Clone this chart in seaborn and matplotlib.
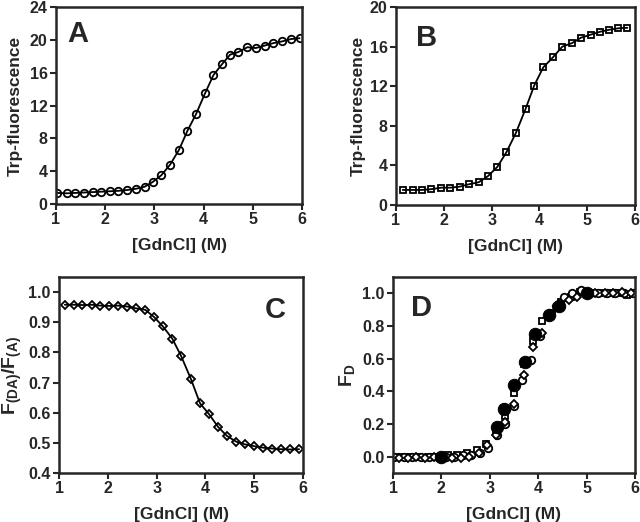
import matplotlib
matplotlib.use("Agg")
import matplotlib.pyplot as plt
import seaborn as sns
import pandas as pd

sns.set_style("ticks")
plt.rcParams['font.family'] = ['Liberation Sans', 'DejaVu Sans']
plt.rcParams['font.weight'] = 'bold'
plt.rcParams['mathtext.fontset'] = 'custom'
plt.rcParams['mathtext.bf'] = 'Liberation Sans:bold'
plt.rcParams['mathtext.rm'] = 'Liberation Sans:bold'

# Panel A (circles)
a_x = [1.03, 1.22, 1.39, 1.57, 1.75, 1.92, 2.09, 2.26, 2.44, 2.62, 2.80, 2.97, 3.14, 3.32, 3.50,
       3.67, 3.85, 4.03, 4.20, 4.37, 4.54, 4.70, 4.89, 5.06, 5.24, 5.42, 5.59, 5.78, 5.95]
a_y = [1.35, 1.3, 1.35, 1.4, 1.45, 1.5, 1.55, 1.6, 1.7, 1.85, 2.1, 2.7, 3.5, 4.8, 6.6,
       8.9, 11.0, 13.5, 15.7, 17.0, 18.2, 18.5, 19.1, 19.0, 19.3, 19.6, 19.8, 20.1, 20.2]

# Panel B (squares)
b_x = [1.14, 1.35, 1.54, 1.74, 1.94, 2.14, 2.33, 2.53, 2.73, 2.92, 3.12, 3.31, 3.51, 3.71,
       3.89, 4.08, 4.28, 4.48, 4.68, 4.87, 5.07, 5.27, 5.46, 5.65, 5.84]
b_y = [1.52, 1.52, 1.52, 1.6, 1.75, 1.75, 1.85, 2.1, 2.3, 2.9, 3.85, 5.33, 7.3, 9.7,
       12.05, 13.9, 14.9, 16.0, 16.35, 16.9, 17.2, 17.5, 17.7, 17.85, 17.9]

# Panel C (diamonds)
c_x = [1.12, 1.30, 1.48, 1.67, 1.85, 2.03, 2.21, 2.40, 2.58, 2.77, 2.95, 3.13, 3.32, 3.50,
       3.70, 3.89, 4.07, 4.26, 4.44, 4.63, 4.81, 5.00, 5.18, 5.37, 5.55, 5.74, 5.92]
c_y = [0.958, 0.958, 0.957, 0.958, 0.955, 0.954, 0.955, 0.952, 0.946, 0.941, 0.917, 0.886, 0.846, 0.789,
       0.713, 0.631, 0.596, 0.553, 0.523, 0.504, 0.495, 0.489, 0.484, 0.481, 0.479, 0.478, 0.479]

# Panel D (fraction denatured)
d_sq_y = [0.0, 0.0, 0.0, 0.0, 0.0, 0.01, 0.01, 0.02, 0.04, 0.08, 0.16, 0.25, 0.39, 0.57,
          0.71, 0.83, 0.88, 0.95, 0.98, 1.01, 1.0, 1.0, 1.0, 1.0, 0.99]
d_ci_y = [0.0, 0.0, 0.0, 0.0, 0.0, 0.0, 0.0, 0.0, 0.01, 0.01, 0.02, 0.05, 0.13, 0.20, 0.31,
          0.47, 0.59, 0.74, 0.86, 0.92, 0.98, 1.0, 1.02, 1.0, 1.0, 1.0, 1.0, 1.0, 1.0]
d_di_y = [-0.01, -0.01, 0.0, -0.01, 0.0, -0.01, -0.01, -0.01, 0.0, 0.02, 0.07, 0.13, 0.21, 0.32,
          0.50, 0.67, 0.76, 0.86, 0.93, 0.96, 0.98, 0.99, 1.0, 1.0, 1.0, 1.01, 1.0]
d_fill_x = [2.0, 3.15, 3.30, 3.51, 3.72, 3.93, 4.22, 4.42, 5.0]
d_fill_y = [0.0, 0.18, 0.29, 0.44, 0.58, 0.75, 0.87, 0.92, 1.0]

fig = plt.figure(figsize=(6.4, 5.22), dpi=100)
W, H = 640, 522
def axes_px(l, r, t, b):
    return fig.add_axes([l / W, 1 - b / H, (r - l) / W, (b - t) / H])

axA = axes_px(56, 302, 7, 204)
axB = axes_px(396, 635, 7, 205)
axC = axes_px(59, 303, 277, 473)
axD = axes_px(393, 635, 277, 473)

ms = 5.4
line_kw = dict(color='black', linewidth=1.3)

def line_with_markers(ax, x, y, marker, size):
    df = pd.DataFrame({'x': x, 'y': y})
    sns.lineplot(data=df, x='x', y='y', ax=ax, sort=True, **line_kw)
    ax.plot(x, y, linestyle='none', marker=marker, markersize=size,
            markerfacecolor='none', markeredgecolor='black', markeredgewidth=1.3)

line_with_markers(axA, a_x, a_y, 'o', ms)
line_with_markers(axB, b_x, b_y, 's', ms - 0.6)
line_with_markers(axC, c_x, c_y, 'D', ms - 0.9)

axD.plot(b_x, d_sq_y, linestyle='none', marker='s', markersize=ms - 0.6,
         markerfacecolor='white', markeredgecolor='black', markeredgewidth=1.3)
axD.plot(a_x, d_ci_y, linestyle='none', marker='o', markersize=ms,
         markerfacecolor='white', markeredgecolor='black', markeredgewidth=1.3)
axD.plot(c_x, d_di_y, linestyle='none', marker='D', markersize=ms - 0.9,
         markerfacecolor='white', markeredgecolor='black', markeredgewidth=1.3)
sns.scatterplot(x=d_fill_x, y=d_fill_y, ax=axD, s=80, color='black', edgecolor='black', zorder=5)

label_fs = 12.5
tick_fs = 11.5
for ax in (axA, axB, axC, axD):
    ax.set_xlim(1, 6)
    ax.set_xticks([1, 2, 3, 4, 5, 6])
    for s in ax.spines.values():
        s.set_linewidth(1.8)
        s.set_visible(True)
    ax.tick_params(direction='out', length=4, width=1.5, labelsize=tick_fs,
                   top=False, right=False, pad=2)
    ax.set_xlabel('[GdnCl] (M)', fontsize=label_fs, fontweight='bold', labelpad=8)

axA.set_ylim(0, 24)
axA.set_yticks([0, 4, 8, 12, 16, 20, 24])
axA.set_ylabel('Trp-fluorescence', fontsize=label_fs, fontweight='bold', labelpad=5)

axB.set_ylim(0, 20)
axB.set_yticks([0, 4, 8, 12, 16, 20])
axB.set_ylabel('Trp-fluorescence', fontsize=label_fs, fontweight='bold', labelpad=3)

axC.set_ylim(0.4, 1.05)
axC.set_yticks([0.4, 0.5, 0.6, 0.7, 0.8, 0.9, 1.0])
axC.set_yticklabels(['0.4', '0.5', '0.6', '0.7', '0.8', '0.9', '1.0'])
axC.set_ylabel(r'$\mathbf{F_{(DA)}/F_{(A)}}$', fontsize=label_fs + 1.5, labelpad=3)

axD.set_ylim(-0.1, 1.1)
axD.set_yticks([0.0, 0.2, 0.4, 0.6, 0.8, 1.0])
axD.set_yticklabels(['0.0', '0.2', '0.4', '0.6', '0.8', '1.0'])
axD.set_ylabel(r'$\mathbf{F_{D}}$', fontsize=label_fs + 1.5, labelpad=4)

for ax in (axA, axB, axC, axD):
    for t in ax.get_xticklabels() + ax.get_yticklabels():
        t.set_fontweight('bold')

letter_fs = 21
axA.text(0.045, 0.935, 'A', transform=axA.transAxes, fontsize=letter_fs, fontweight='bold', va='top', ha='left')
axB.text(0.085, 0.915, 'B', transform=axB.transAxes, fontsize=letter_fs, fontweight='bold', va='top', ha='left')
axC.text(0.93, 0.905, 'C', transform=axC.transAxes, fontsize=letter_fs, fontweight='bold', va='top', ha='right')
axD.text(0.075, 0.915, 'D', transform=axD.transAxes, fontsize=letter_fs, fontweight='bold', va='top', ha='left')

fig.savefig('out.png', dpi=100)
